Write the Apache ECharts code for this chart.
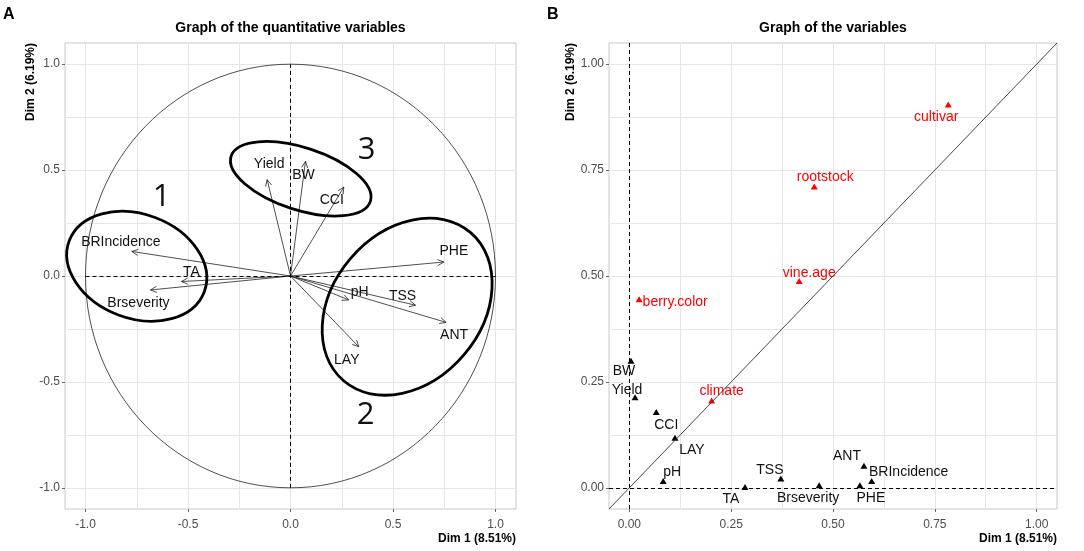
<!DOCTYPE html>
<html>
<head>
<meta charset="utf-8">
<script src="https://cdn.jsdelivr.net/npm/echarts@6/dist/echarts.min.js"></script>
<style>
  html, body { margin: 0; padding: 0; background: #fff; }
  #chart { width: 1084px; height: 551px; }
</style>
</head>
<body>
<div id="chart"></div>
<script>
// panel A - coordinates of the quantitative variables (correlation circle)
const quantNames = ['BRIncidence', 'TA', 'Brseverity', 'Yield', 'BW', 'CCI', 'PHE', 'pH', 'TSS', 'ANT', 'LAY']
const quantDim1 = [-0.774, -0.532, -0.683, -0.114, 0.073, 0.260, 0.748, 0.284, 0.610, 0.759, 0.333]
const quantDim2 = [0.116, -0.026, -0.066, 0.455, 0.541, 0.420, 0.066, -0.113, -0.138, -0.219, -0.334]

// panel B - graph of the variables
const catNames = ['cultivar', 'rootstock', 'vine.age', 'berry.color', 'climate']
const catDim1 = [0.783, 0.454, 0.417, 0.024, 0.202]
const catDim2 = [0.905, 0.711, 0.488, 0.445, 0.206]
const varNames = ['BW', 'Yield', 'CCI', 'LAY', 'pH', 'TA', 'TSS', 'Brseverity', 'PHE', 'ANT', 'BRIncidence']
const varDim1 = [0.004, 0.014, 0.066, 0.112, 0.083, 0.284, 0.372, 0.466, 0.566, 0.576, 0.595]
const varDim2 = [0.300, 0.214, 0.179, 0.118, 0.016, 0.002, 0.022, 0.006, 0.006, 0.052, 0.016]

// axis ticks and grid lines
const ticksA = [-1, -0.5, 0, 0.5, 1]
const linesA = [-1, -0.75, -0.5, -0.25, 0, 0.25, 0.5, 0.75, 1]
const ticksB = [0, 0.25, 0.5, 0.75, 1]
const linesB = [0, 0.125, 0.25, 0.375, 0.5, 0.625, 0.75, 0.875, 1]

// hand drawn groups on panel A (data units, tilt in degrees)
const groupMarks = [
  { label: '1', at: [-0.629, 0.373], centre: [-0.750, 0.046], rx: 0.352, ry: 0.254, tilt: -20.6 },
  { label: '2', at: [0.366, -0.658], centre: [0.569, -0.145], rx: 0.476, ry: 0.363, tilt: 49.4 },
  { label: '3', at: [0.371, 0.596], centre: [0.050, 0.459], rx: 0.357, ry: 0.152, tilt: -18 }
]

// label nudges in pixels (repel-like placement)
const nudgeA = {
  BRIncidence: [-11, -9], TA: [10, -9], Brseverity: [-12, 13], Yield: [2, -15], BW: [-2, 14],
  CCI: [-12, 13], PHE: [10, -11], pH: [11, -8], TSS: [-13, -9], ANT: [8, 13], LAY: [-12, 13]
}
const nudgeB = {
  cultivar: [-12, 13], rootstock: [11, -9], 'vine.age': [10, -8], 'berry.color': [36, 3], climate: [10, -9],
  BW: [-7, 10], Yield: [-8, -7], CCI: [10, 13], LAY: [17, 12], pH: [9, -9], TA: [-14, 12],
  TSS: [-11, -8], Brseverity: [-11, 13], PHE: [11, 13], ANT: [-17, -10], BRIncidence: [37, -9]
}

const FONT = '"Liberation Sans", Arial, sans-serif'

function mainAxis(gridIndex, min, max, ticks, digits, position) {
  return {
    type: 'value', gridIndex, min, max, position,
    axisLine: { show: false, onZero: false },
    axisTick: { show: true, length: 3, customValues: ticks, lineStyle: { color: '#666', width: 1 } },
    axisLabel: {
      customValues: ticks, color: '#4D4D4D', fontSize: 12, fontFamily: FONT,
      margin: position === 'bottom' ? 10 : 5,
      formatter: v => v.toFixed(digits)
    },
    splitLine: { show: false }
  }
}

function gridAxis(gridIndex, min, max, lines, position) {
  return {
    type: 'value', gridIndex, min, max, position,
    axisLine: { show: false, onZero: false },
    axisTick: { show: false, customValues: lines },
    axisLabel: { show: false },
    splitLine: { show: true, lineStyle: { color: '#E6E6E6', width: 1 } }
  }
}

// unit circle
function renderCircle(params, api) {
  const c = api.coord([0, 0])
  const s = api.size([1, 1])
  return {
    type: 'ellipse',
    shape: { cx: c[0], cy: c[1], rx: s[0], ry: s[1] },
    style: { fill: null, stroke: '#222', lineWidth: 0.8 },
    silent: true
  }
}

// arrows from origin with open heads
function renderArrow(params, api) {
  const o = api.coord([0, 0])
  const p = api.coord([api.value(0), api.value(1)])
  const ang = Math.atan2(p[1] - o[1], p[0] - o[0])
  const len = 7, spread = 0.45
  const h1 = [p[0] - len * Math.cos(ang - spread), p[1] - len * Math.sin(ang - spread)]
  const h2 = [p[0] - len * Math.cos(ang + spread), p[1] - len * Math.sin(ang + spread)]
  const name = quantNames[params.dataIndex]
  const nd = nudgeA[name]
  return {
    type: 'group',
    children: [
      { type: 'line', shape: { x1: o[0], y1: o[1], x2: p[0], y2: p[1] }, style: { stroke: '#222', lineWidth: 0.8 } },
      { type: 'polyline', shape: { points: [h1, p, h2] }, style: { stroke: '#222', lineWidth: 0.8, fill: null } },
      {
        type: 'text', x: p[0] + nd[0], y: p[1] + nd[1],
        style: { text: name, fill: '#111', fontSize: 14, fontFamily: FONT, align: 'center', verticalAlign: 'middle' }
      }
    ]
  }
}

// the drawn ellipses and their numbers
function renderGroup(params, api) {
  const m = groupMarks[params.dataIndex]
  const c = api.coord(m.centre)
  const t = api.coord(m.at)
  const s = api.size([1, 1])
  return {
    type: 'group',
    children: [
      {
        type: 'ellipse', x: c[0], y: c[1], rotation: m.tilt * Math.PI / 180,
        shape: { cx: 0, cy: 0, rx: m.rx * s[0], ry: m.ry * s[0] },
        style: { fill: null, stroke: '#000', lineWidth: 2.8 }
      },
      {
        type: 'text', x: t[0], y: t[1],
        style: { text: m.label, fill: '#111', fontSize: 31, fontFamily: '"Open Sans", ' + FONT, align: 'center', verticalAlign: 'middle' }
      }
    ]
  }
}

function pointData(names, xs, ys) {
  return names.map((n, i) => ({ name: n, value: [xs[i], ys[i]], label: { offset: nudgeB[n] } }))
}

const dashed = { color: '#000', width: 1, type: [4, 3] }

const chart = echarts.init(document.getElementById('chart'), null, { renderer: 'canvas' })

chart.setOption({
  animation: false,
  backgroundColor: '#fff',
  grid: [
    { left: 65, top: 43, width: 451, height: 466, show: true, borderColor: '#C8C8C8', borderWidth: 1, outerBoundsMode: 'none' },
    { left: 609, top: 43, width: 448, height: 466, show: true, borderColor: '#C8C8C8', borderWidth: 1, outerBoundsMode: 'none' }
  ],
  xAxis: [
    mainAxis(0, -1.1, 1.1, ticksA, 1, 'bottom'),
    gridAxis(0, -1.1, 1.1, linesA, 'bottom'),
    mainAxis(1, -0.05, 1.05, ticksB, 2, 'bottom'),
    gridAxis(1, -0.05, 1.05, linesB, 'bottom')
  ],
  yAxis: [
    mainAxis(0, -1.1, 1.1, ticksA, 1, 'left'),
    gridAxis(0, -1.1, 1.1, linesA, 'left'),
    mainAxis(1, -0.05, 1.05, ticksB, 2, 'left'),
    gridAxis(1, -0.05, 1.05, linesB, 'left')
  ],
  graphic: [
    { type: 'text', x: 290.5, y: 28, style: { text: 'Graph of the quantitative variables', fill: '#000', font: 'bold 14px ' + FONT, align: 'center', verticalAlign: 'middle' } },
    { type: 'text', x: 833, y: 28, style: { text: 'Graph of the variables', fill: '#000', font: 'bold 14px ' + FONT, align: 'center', verticalAlign: 'middle' } },
    { type: 'text', x: 3, y: 15, style: { text: 'A', fill: '#000', font: 'bold 16px ' + FONT, verticalAlign: 'middle' } },
    { type: 'text', x: 547, y: 15, style: { text: 'B', fill: '#000', font: 'bold 16px ' + FONT, verticalAlign: 'middle' } },
    { type: 'text', x: 31, y: 43, rotation: Math.PI / 2, style: { text: 'Dim 2 (6.19%)', fill: '#000', font: 'bold 12px ' + FONT, align: 'right', verticalAlign: 'middle' } },
    { type: 'text', x: 571, y: 43, rotation: Math.PI / 2, style: { text: 'Dim 2 (6.19%)', fill: '#000', font: 'bold 12px ' + FONT, align: 'right', verticalAlign: 'middle' } },
    { type: 'text', x: 516, y: 539, style: { text: 'Dim 1 (8.51%)', fill: '#000', font: 'bold 12px ' + FONT, align: 'right', verticalAlign: 'middle' } },
    { type: 'text', x: 1057, y: 539, style: { text: 'Dim 1 (8.51%)', fill: '#000', font: 'bold 12px ' + FONT, align: 'right', verticalAlign: 'middle' } }
  ],
  series: [
    {
      type: 'custom', xAxisIndex: 0, yAxisIndex: 0, silent: true, clip: false,
      renderItem: renderCircle, data: [[0, 0]]
    },
    {
      type: 'custom', xAxisIndex: 0, yAxisIndex: 0, silent: true, clip: false,
      renderItem: renderArrow,
      data: quantNames.map((n, i) => [quantDim1[i], quantDim2[i]]),
      markLine: {
        silent: true, symbol: 'none', label: { show: false }, lineStyle: dashed,
        data: [
          [{ coord: [0, -1] }, { coord: [0, 1] }],
          [{ coord: [-1, 0] }, { coord: [1, 0] }]
        ]
      }
    },
    {
      type: 'custom', xAxisIndex: 0, yAxisIndex: 0, silent: true, clip: false,
      renderItem: renderGroup, data: groupMarks.map(m => m.centre)
    },
    {
      type: 'scatter', xAxisIndex: 2, yAxisIndex: 2, silent: true,
      symbol: 'triangle', symbolSize: [7, 6],
      itemStyle: { color: '#000', opacity: 1 },
      label: { show: true, position: 'inside', formatter: '{b}', color: '#111', opacity: 1, fontSize: 14, fontFamily: FONT },
      data: pointData(varNames, varDim1, varDim2),
      markLine: {
        silent: true, symbol: 'none', label: { show: false },
        data: [
          { xAxis: 0, lineStyle: dashed },
          { yAxis: 0, lineStyle: dashed },
          [{ coord: [-0.05, -0.05], lineStyle: { color: '#333', width: 0.9, type: 'solid' } }, { coord: [1.05, 1.05] }]
        ]
      }
    },
    {
      type: 'scatter', xAxisIndex: 2, yAxisIndex: 2, silent: true,
      symbol: 'triangle', symbolSize: [7, 6],
      itemStyle: { color: '#FF0000', opacity: 1 },
      label: { show: true, position: 'inside', formatter: '{b}', color: '#FF0000', opacity: 1, fontSize: 14, fontFamily: FONT },
      data: pointData(catNames, catDim1, catDim2)
    }
  ]
})
</script>
</body>
</html>
